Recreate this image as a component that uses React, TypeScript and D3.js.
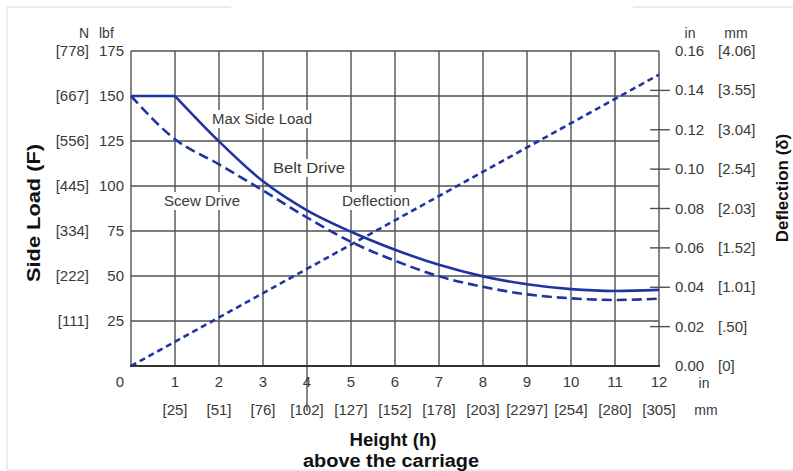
import React from "react";
import * as d3 from "d3";

const heights = [0, 1, 2, 3, 4, 5, 6, 7, 8, 9, 10, 11, 12];
const beltFlat = [150, 150];
const beltDrive = [150, 124.8, 102.6, 86.5, 74.6, 64.6, 56.2, 49.8, 45.4, 42.7, 41.7, 42.3];
const screwDrive = [150, 126, 112, 97.5, 82.5, 69, 58.5, 49.8, 44, 39.8, 37.6, 36.7, 37.4];
const deflection = [0, 0.148];
const deflX = [0, 12];
const lbfTicks = [25, 50, 75, 100, 125, 150, 175];
const nLabels = ["[111]", "[222]", "[334]", "[445]", "[556]", "[667]", "[778]"];
const inTicks = [0, 0.02, 0.04, 0.06, 0.08, 0.1, 0.12, 0.14, 0.16];
const inLabels = ["0.00", "0.02", "0.04", "0.06", "0.08", "0.10", "0.12", "0.14", "0.16"];
const mmRight = ["[0]", "[.50]", "[1.01]", "[1.52]", "[2.03]", "[2.54]", "[3.04]", "[3.55]", "[4.06]"];
const xTicks = [1, 2, 3, 4, 5, 6, 7, 8, 9, 10, 11, 12];
const mmBottom = ["[25]", "[51]", "[76]", "[102]", "[127]", "[152]", "[178]", "[203]", "[2297]", "[254]", "[280]", "[305]"];

const BLUE = "#1f34a0";
const GRID = "#505050";
const TXT = "#3a3a3a";
const FONT = "'Liberation Sans', Arial, sans-serif";

export default function App() {
  const x = d3.scaleLinear().domain([0, 12]).range([131, 659]);
  const yL = d3.scaleLinear().domain([0, 175]).range([366, 51]);
  const yR = d3.scaleLinear().domain([0, 0.16]).range([366, 51]);

  const curve = d3.line<[number, number]>().x((d) => x(d[0])).y((d) => yL(d[1])).curve(d3.curveMonotoneX);
  const straight = d3.line<[number, number]>().x((d) => x(d[0])).y((d) => yL(d[1]));
  const defl = d3.line<[number, number]>().x((d) => x(d[0])).y((d) => yR(d[1]));

  const beltPts: [number, number][] = beltDrive.map((v, i) => [heights[i + 1], v]);
  const flatPts: [number, number][] = beltFlat.map((v, i) => [heights[i], v]);
  const screwPts: [number, number][] = screwDrive.map((v, i) => [heights[i], v]);
  const deflPts: [number, number][] = deflection.map((v, i) => [deflX[i], v]);

  const labels = [
    { t: "Max Side Load", x: 262, y: 119, w: 104 },
    { t: "Belt Drive", x: 309, y: 168, w: 76 },
    { t: "Scew Drive", x: 202, y: 201, w: 80 },
    { t: "Deflection", x: 376, y: 201, w: 72 },
  ];

  return (
    <svg width={793} height={471} style={{ position: "absolute", left: 0, top: 0, background: "#fff" }} fontFamily={FONT}>
      {/* faint outer frame */}
      <g stroke="#e8e8e8" strokeWidth={1.5} fill="none">
        <line x1={7} y1={7} x2={231} y2={7} />
        <line x1={633} y1={7} x2={793} y2={7} />
        <line x1={7} y1={7} x2={7} y2={470} />
        <line x1={7} y1={470} x2={793} y2={470} />
      </g>
      {/* grid */}
      <g stroke={GRID} strokeWidth={1.4}>
        {lbfTicks.map((v) => (
          <line key={"h" + v} x1={x(0)} x2={x(12)} y1={yL(v)} y2={yL(v)} />
        ))}
        {[0, ...xTicks].map((v) => (
          <line key={"v" + v} x1={x(v)} x2={x(v)} y1={yL(175)} y2={yL(0)} />
        ))}
        <line x1={x(4)} x2={x(4)} y1={yL(0)} y2={411} />
        {inTicks.slice(1, 8).map((v) => (
          <line key={"r" + v} x1={650} x2={670} y1={yR(v)} y2={yR(v)} />
        ))}
      </g>
      <line x1={x(0) - 1} x2={x(12) + 1} y1={yL(0)} y2={yL(0)} stroke="#333" strokeWidth={2.2} />

      {/* in-chart labels */}
      {labels.map((l) => (
        <g key={l.t}>
          <rect x={l.x - l.w / 2} y={l.y - 9} width={l.w} height={18} fill="#fff" />
          <text x={l.x} y={l.y + 5} textAnchor="middle" fontSize={14} fill={TXT} textLength={l.w - 4} lengthAdjust="spacingAndGlyphs">{l.t}</text>
        </g>
      ))}

      {/* curves */}
      <path d={straight(flatPts) || ""} fill="none" stroke={BLUE} strokeWidth={2.6} />
      <path d={curve(beltPts) || ""} fill="none" stroke={BLUE} strokeWidth={2.6} />
      <path d={curve(screwPts) || ""} fill="none" stroke={BLUE} strokeWidth={2.6} strokeDasharray="10,5" />
      <path d={defl(deflPts) || ""} fill="none" stroke={BLUE} strokeWidth={2.6} strokeDasharray="6,4" />

      {/* axis labels */}
      <g fontSize={15} fill={TXT}>
        <text x={89} y={38} textAnchor="end" fontSize={14}>N</text>
        <text x={99} y={38} fontSize={14}>lbf</text>
        {lbfTicks.map((v, i) => (
          <g key={"l" + v}>
            <text x={124} y={yL(v) + 5} textAnchor="end">{v}</text>
            <text x={89} y={yL(v) + 5} textAnchor="end">{nLabels[i]}</text>
          </g>
        ))}
        <text x={120} y={387} textAnchor="middle">0</text>
        {xTicks.map((v, i) => (
          <g key={"b" + v}>
            <text x={x(v)} y={387} textAnchor="middle">{v}</text>
            <text x={x(v)} y={415} textAnchor="middle">{mmBottom[i]}</text>
          </g>
        ))}
        <text x={704} y={388} textAnchor="middle" fontSize={14}>in</text>
        <text x={706} y={415} textAnchor="middle" fontSize={14}>mm</text>
        <text x={690} y={38} textAnchor="middle" fontSize={14}>in</text>
        <text x={736} y={38} textAnchor="middle" fontSize={14}>mm</text>
        {inTicks.map((v, i) => (
          <g key={"rt" + v}>
            <text x={675} y={yR(v) + 5}>{inLabels[i]}</text>
            <text x={718} y={yR(v) + 5}>{mmRight[i]}</text>
          </g>
        ))}
      </g>

      {/* titles */}
      <g fontWeight="bold" fontSize={18} fill="#111">
        <text transform="translate(40,213) rotate(-90)" textAnchor="middle" fontSize={19} textLength={138} lengthAdjust="spacingAndGlyphs">Side Load (F)</text>
        <text transform="translate(788,188) rotate(-90)" textAnchor="middle" fontSize={17}>Deflection (δ)</text>
        <text x={393} y={446} textAnchor="middle" textLength={87} lengthAdjust="spacingAndGlyphs">Height (h)</text>
        <text x={391} y={467} textAnchor="middle" textLength={176} lengthAdjust="spacingAndGlyphs">above the carriage</text>
      </g>
    </svg>
  );
}
